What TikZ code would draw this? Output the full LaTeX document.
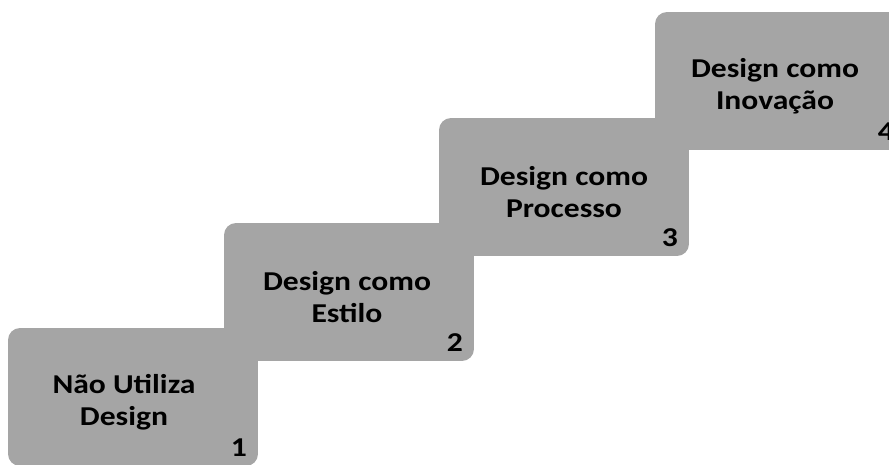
\documentclass[tikz,border=0pt]{standalone}
\usepackage{fontspec}
\newfontfamily\stepfont[FakeStretch=1.16]{Carlito}
\usetikzlibrary{calc}
\definecolor{stepgray}{RGB}{165,165,165}

\begin{document}
\begin{tikzpicture}[x=0.02cm,y=-0.02cm,
	stepbox/.style={fill=stepgray,rounded corners=0.24cm,minimum width=5cm,minimum height=2.76cm,inner sep=0pt},
	steplabel/.style={font=\stepfont\bfseries\fontsize{15.5}{18.5}\selectfont,align=center,inner sep=0pt},
	stepnum/.style={font=\stepfont\bfseries\fontsize{15.5}{18.5}\selectfont,anchor=base east,inner sep=0pt}]
	\useasboundingbox (0,0) rectangle (889,464);

	\node[stepbox] (S1) at (133,397) {};
	\node[stepbox] (S2) at (349,292) {};
	\node[stepbox] (S3) at (564,187) {};
	\node[stepbox] (S4) at (780,81) {};

	\node[steplabel] (L1) at ($(S1.center)+(-9,5)$) {N\~ao Utiliza\\Design};
	\node[steplabel] (L2) at ($(S2.center)+(-2,5)$) {Design como\\Estilo};
	\node[steplabel] (L3) at ($(S3.center)+(0,5)$) {Design como\\Processo};
	\node[steplabel] (L4) at ($(S4.center)+(-5,5)$) {Design como\\Inova\c{c}\~ao};

	\node[stepnum] (N1) at ($(S1.south east)+(-11,-10)$) {1};
	\node[stepnum] (N2) at ($(S2.south east)+(-11,-10)$) {2};
	\node[stepnum] (N3) at ($(S3.south east)+(-11,-10)$) {3};
	\node[stepnum] (N4) at ($(S4.south east)+(-11,-10)$) {4};
\end{tikzpicture}
\end{document}
